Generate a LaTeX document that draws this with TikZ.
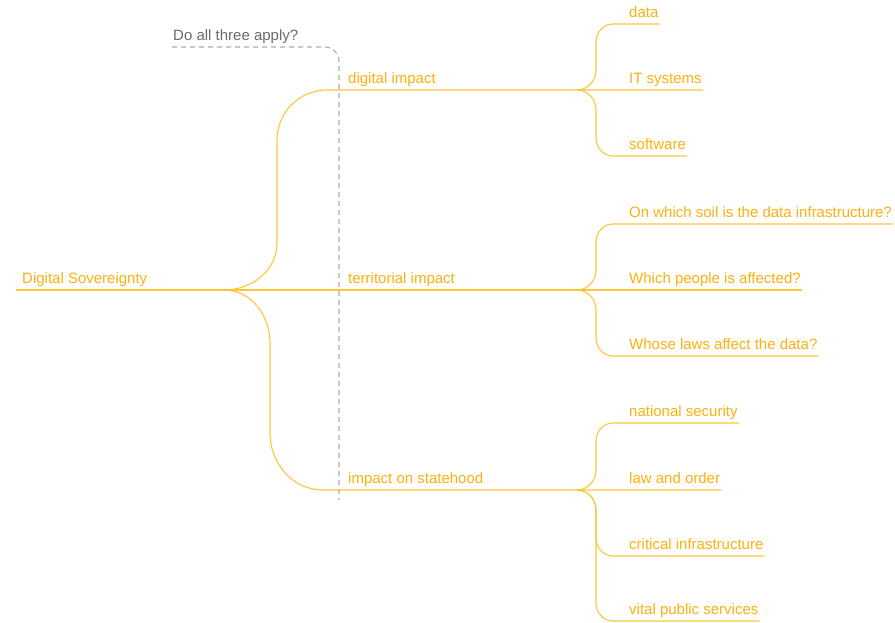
\documentclass[tikz,border=0pt]{standalone}
\usepackage{fontspec}
\setmainfont{Liberation Sans}
\definecolor{mapline}{HTML}{FFC53D}
\definecolor{maptext}{HTML}{FDB00F}
\definecolor{notegray}{HTML}{6A6A6A}
\tikzset{
	topic/.style={anchor=south west, text=maptext, font=\fontsize{15}{17}\selectfont, inner xsep=1pt, inner ysep=6.5pt, text depth=0pt},
	note/.style={topic, text=notegray},
	branch/.style={draw=mapline, line width=1.1pt},
	guide/.style={draw=gray!65, line width=1.1pt, dash pattern=on 5pt off 4pt, rounded corners=14pt}
}
\begin{document}
\begin{tikzpicture}[x=1pt,y=1pt]
	\useasboundingbox (0,0) rectangle (895,-623);
	\coordinate (start) at (16,-290);
	\coordinate (hub) at (224,-290);
	\coordinate (digi) at (577,-90);
	\coordinate (terr) at (577,-290);
	\coordinate (state) at (577,-490);
	\coordinate (guideend) at (339,-500);
	\node[topic] (sov) at (21,-290) {Digital Sovereignty};
	\node[topic] (dig) at (347,-90) {digital impact};
	\node[topic] (ter) at (347,-290) {territorial impact};
	\node[topic] (sta) at (347,-490) {impact on statehood};
	\node[topic] (data) at (628,-24) {data};
	\node[topic] (it) at (628,-90) {IT systems};
	\node[topic] (soft) at (628,-156) {software};
	\node[topic] (soil) at (628,-224) {On which soil is the data infrastructure?};
	\node[topic] (people) at (628,-290) {Which people is affected?};
	\node[topic] (laws) at (628,-356) {Whose laws affect the data?};
	\node[topic] (secu) at (628,-423) {national security};
	\node[topic] (order) at (628,-490) {law and order};
	\node[topic] (infra) at (628,-556) {critical infrastructure};
	\node[topic] (serv) at (628,-621) {vital public services};
	\node[note] (ask) at (172,-47) {Do all three apply?};
	\draw[guide] (ask.south west) -- (339,-47) -- (guideend);
	\draw[branch] (start) -- (hub) -- (terr) -- (people.south east);
	\draw[branch] (hub) to[out=0,in=-90] (277,-243) -- (277,-140) to[out=90,in=180] (327,-90) -- (digi) -- (it.south east);
	\draw[branch] (hub) to[out=0,in=90] (270,-343) -- (270,-433) to[out=-90,in=180] (323,-490) -- (state) -- (order.south east);
	\draw[branch] (digi) to[out=0,in=-90] ++(19,20) -- ++(0,28) to[out=90,in=180] ++(17,18) -- (data.south east);
	\draw[branch] (digi) to[out=0,in=90] ++(19,-20) -- ++(0,-28) to[out=-90,in=180] ++(17,-18) -- (soft.south east);
	\draw[branch] (terr) to[out=0,in=-90] ++(19,20) -- ++(0,28) to[out=90,in=180] ++(17,18) -- (soil.south east);
	\draw[branch] (terr) to[out=0,in=90] ++(19,-20) -- ++(0,-28) to[out=-90,in=180] ++(17,-18) -- (laws.south east);
	\draw[branch] (state) to[out=0,in=-90] ++(19,20) -- ++(0,29) to[out=90,in=180] ++(17,18) -- (secu.south east);
	\draw[branch] (state) to[out=0,in=90] ++(19,-20) -- ++(0,-28) to[out=-90,in=180] ++(17,-18) -- (infra.south east);
	\draw[branch] (state) to[out=0,in=90] ++(19,-20) -- ++(0,-93) to[out=-90,in=180] ++(17,-18) -- (serv.south east);
\end{tikzpicture}
\end{document}
